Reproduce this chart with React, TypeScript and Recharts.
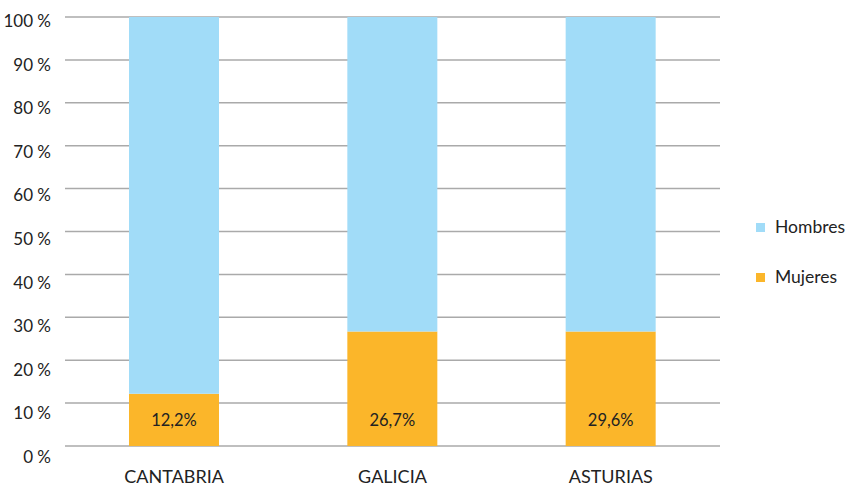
import { BarChart, Bar, XAxis, YAxis, CartesianGrid, LabelList } from 'recharts'

const regions = ['CANTABRIA', 'GALICIA', 'ASTURIAS']
const mujeres = [12.2, 26.7, 26.7]
const hombres = [87.8, 73.3, 73.3]
const mujeresLabels = ['12,2%', '26,7%', '29,6%']
const yTicks = [0, 10, 20, 30, 40, 50, 60, 70, 80, 90, 100]

const data = regions.map((r, i) => ({
  region: r,
  mujeres: mujeres[i],
  hombres: hombres[i],
  label: mujeresLabels[i],
}))

const FONT = 'Lato, "Open Sans", sans-serif'
const TEXT = '#222'

// labels in the source drift a little below their gridlines toward the bottom
const YTick = ({ x, y, payload }: any) => (
  <text x={x - 6} y={y + 4 + (100 - payload.value) * 0.07} dy={6} textAnchor="end" fill={TEXT} fontSize={17} fontFamily={FONT}>
    {payload.value} %
  </text>
)

const XTick = ({ x, y, payload }: any) => (
  <text x={x} y={y} dy={29} textAnchor="middle" fill={TEXT} fontSize={18} fontFamily={FONT}>
    {payload.value}
  </text>
)

const BottomLabel = (props: any) => {
  const { x, y, width, height, index } = props
  return (
    <text x={x + width / 2} y={y + height - 20} textAnchor="middle" fill={TEXT} fontSize={16.5} fontFamily={FONT}>
      {mujeresLabels[index]}
    </text>
  )
}

export default function App() {
  return (
    <div style={{ position: 'relative', width: 847, height: 489 }}>
      <style>{'body{margin:0;background:#fff}'}</style>
      <BarChart width={847} height={489} data={data} margin={{ top: 17, right: 127, bottom: 0, left: 0 }} barCategoryGap={64}>
        <CartesianGrid vertical={false} stroke="#aaa" strokeWidth={1.5} />
        <XAxis dataKey="region" axisLine={false} tickLine={false} tick={<XTick />} height={43} />
        <YAxis
          type="number" domain={[0, 100]} ticks={yTicks} width={65}
          axisLine={false} tickLine={false} tick={<YTick />}
        />
        <Bar dataKey="mujeres" stackId="a" fill="#fbb62a" isAnimationActive={false}>
          <LabelList dataKey="label" content={<BottomLabel />} />
        </Bar>
        <Bar dataKey="hombres" stackId="a" fill="#a1dcf8" isAnimationActive={false} />
      </BarChart>
      <div style={{ position: 'absolute', left: 756, top: 215, fontFamily: FONT, fontSize: 17.5, color: TEXT }}>
        <div style={{ display: 'flex', alignItems: 'center', height: 22 }}>
          <span style={{ width: 9, height: 9, background: '#a1dcf8', marginRight: 10, marginTop: 3 }} />
          Hombres
        </div>
        <div style={{ display: 'flex', alignItems: 'center', height: 22, marginTop: 28 }}>
          <span style={{ width: 9, height: 9, background: '#fbb62a', marginRight: 10, marginTop: 3 }} />
          Mujeres
        </div>
      </div>
    </div>
  )
}
